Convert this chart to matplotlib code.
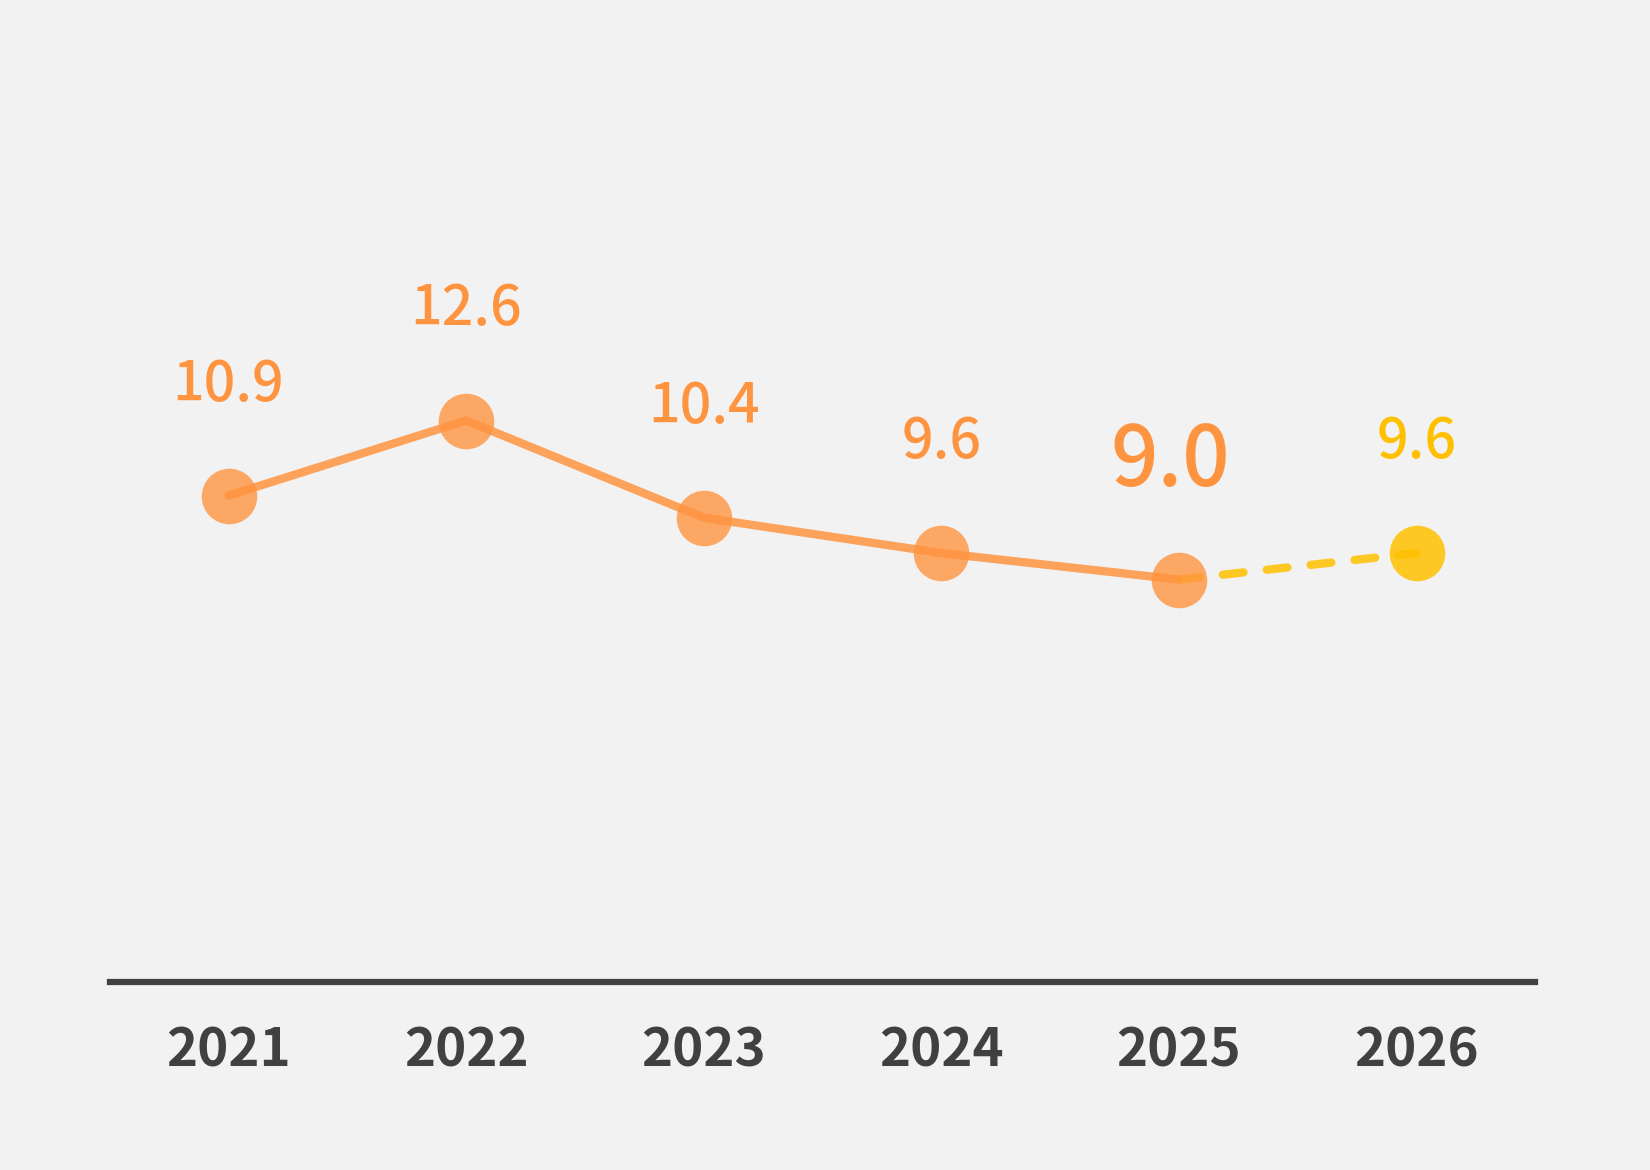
import matplotlib
matplotlib.use('Agg')
import matplotlib.pyplot as plt

years = ['2021', '2022', '2023', '2024', '2025', '2026']
actual = [10.9, 12.6, 10.4, 9.6, 9.0]
forecast = [9.0, 9.6]

orange = '#ff9440'
yellow = '#ffc000'
bg = '#f2f2f2'

plt.rcParams['font.family'] = ['Noto Sans CJK JP', 'DejaVu Sans']

fig = plt.figure(figsize=(16.5, 11.7), dpi=100, facecolor=bg)
ax = fig.add_axes([0.0665, 0.161, 0.864, 0.6835])
ax.set_facecolor(bg)

xa = list(range(len(actual)))
xf = [len(actual) - 1, len(actual)]

ax.plot(xa, actual, color=orange, lw=6, alpha=0.85, solid_capstyle='round', zorder=2)
ax.plot(xa, actual, 'o', color=orange, ms=40, alpha=0.8, mec='none', zorder=3)
ax.plot(xf, forecast, color=yellow, lw=6, alpha=0.85, ls=(0, (2.5, 2.8)),
        dash_capstyle='round', zorder=2)
ax.plot(xf[1:], forecast[1:], 'o', color=yellow, ms=40, alpha=0.85, mec='none', zorder=3)

# value labels
for i, v in enumerate(actual):
    big = (i == len(actual) - 1)
    ax.annotate(f'{v:.1f}', (i, v), xytext=(-6 if big else 0, 84 if big else 80),
                textcoords='offset points', ha='center', va='center',
                fontsize=60 if big else 40, color=orange, fontweight='medium')
ax.annotate(f'{forecast[1]:.1f}', (xf[1], forecast[1]), xytext=(0, 80),
            textcoords='offset points', ha='center', va='center',
            fontsize=40, color=yellow, fontweight='medium')

ax.set_xlim(-0.5, 5.5)
ax.set_ylim(-0.1, 18)
ax.set_xticks(range(len(years)))
ax.set_xticklabels(years, fontsize=38, color='#404040', fontweight='bold')
ax.tick_params(axis='x', length=0, pad=31)
ax.set_yticks([])
for s in ['top', 'right', 'left']:
    ax.spines[s].set_visible(False)
ax.spines['bottom'].set_color('#404040')
ax.spines['bottom'].set_linewidth(4.5)

fig.savefig('out.png', dpi=100, facecolor=bg)
